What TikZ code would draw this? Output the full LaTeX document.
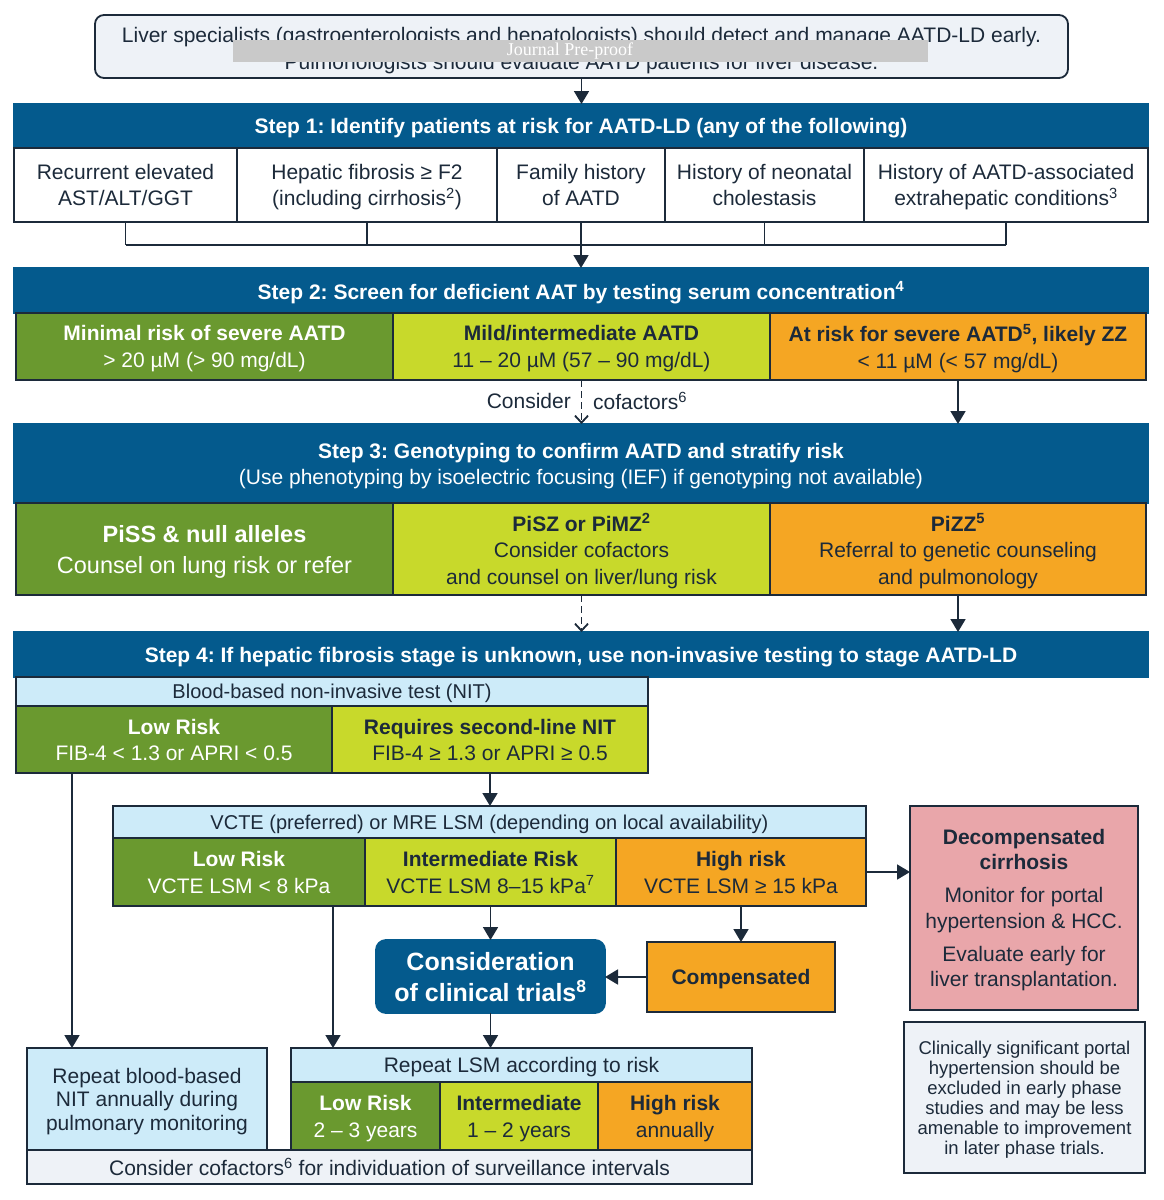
\documentclass[tikz,border=0pt]{standalone}
\usepackage{fontspec}
\setmainfont{Liberation Sans}
\newfontfamily\wmfont{Liberation Serif}
\usetikzlibrary{arrows.meta,calc}
\definecolor{hdr}{HTML}{045A8D}
\definecolor{dgreen}{HTML}{6A992F}
\definecolor{limec}{HTML}{C8D92B}
\definecolor{orng}{HTML}{F5A623}
\definecolor{lblue}{HTML}{CDEBF9}
\definecolor{pinkc}{HTML}{E9A6AA}
\definecolor{pale}{HTML}{EEF2F7}
\definecolor{navy}{HTML}{1C2A3A}
\definecolor{wmgray}{HTML}{C9C9C9}
\newcommand\bx[7]{\node[#6,minimum width={(#4-#2)*1pt},minimum height={(#5-#3)*1pt}] (#1) at ({(#2+#4)/2},{(#3+#5)/2}) {#7};}
\frenchspacing
\begin{document}
\begin{tikzpicture}[x=1pt,y=-1pt,
 bx/.style={draw=navy,line width=1.8pt,inner sep=0pt,outer sep=0pt,align=center,text=navy,text depth=0pt,font={\fontsize{21}{26}\selectfont}},
 hd/.style={bx,fill=hdr,draw=hdr,text=white,font={\bfseries\fontsize{21}{26}\selectfont}},
 gbox/.style={bx,fill=dgreen,text=white},
 lbox/.style={bx,fill=limec},
 obox/.style={bx,fill=orng},
 bbox/.style={bx,fill=lblue},
 wbox/.style={bx,fill=white},
 pbox/.style={bx,fill=pale},
 ln/.style={draw=navy,line width=1.8pt},
 arr/.style={ln,-{Triangle[width=15pt,length=13pt]}},
 darr/.style={draw=navy,line width=1.8pt,dash pattern=on 7pt off 4pt,-{Straight Barb[width=13pt,length=7pt]}},
 lbl/.style={inner sep=0pt,text=navy,font={\fontsize{21}{26}\selectfont}},
]
\useasboundingbox[fill=white] (0,0) rectangle (1163,1200);

% top box
\bx{top}{95}{15}{1068}{78}{pbox,rounded corners=9pt}{}
\node[lbl,align=center,font={\fontsize{21}{27}\selectfont}] (toptxt) at ([yshift=-4pt]top.center) {Liver specialists (gastroenterologists and hepatologists) should detect and manage AATD-LD early.\\Pulmonologists should evaluate AATD patients for liver disease.};
\bx{banner}{233}{40}{928}{62}{fill=wmgray,inner sep=0pt}{}
\node[inner sep=0pt,text=white,font={\wmfont\fontsize{18}{18}\selectfont}] (bannertxt) at (570,51) {Journal Pre-proof};

% step 1
\bx{s1h}{14}{104}{1148}{148}{hd}{Step 1: Identify patients at risk for AATD-LD (any of the following)}
\bx{s1a}{14}{148}{237}{222}{wbox}{Recurrent elevated\\AST/ALT/GGT}
\bx{s1b}{237}{148}{497}{222}{wbox}{Hepatic fibrosis ≥ F2\\(including cirrhosis\textsuperscript{2})}
\bx{s1c}{497}{148}{665}{222}{wbox}{Family history\\of AATD}
\bx{s1d}{665}{148}{864}{222}{wbox}{History of neonatal\\cholestasis}
\bx{s1e}{864}{148}{1148}{222}{wbox}{History of AATD-associated\\extrahepatic conditions\textsuperscript{3}}
\draw[arr] (top.south) -- (top.south |- s1h.north);
\coordinate (bus) at (580,245);
\foreach \n in {a,b,c,d,e} {\draw[ln] (s1\n.south) -- (s1\n.south |- bus);}
\draw[ln] (s1a.south |- bus) -- (s1e.south |- bus);

% step 2
\bx{s2h}{14}{268}{1148}{313}{hd}{Step 2: Screen for deficient AAT by testing serum concentration\textsuperscript{4}}
\draw[arr] (s1c.south |- bus) -- (s1c.south |- s2h.north);
\bx{s2a}{16}{313}{393}{380}{gbox,font={\fontsize{21}{27}\selectfont}}{\textbf{Minimal risk of severe AATD}\\> 20 µM (> 90 mg/dL)}
\bx{s2b}{393}{313}{770}{380}{lbox,font={\fontsize{21}{27}\selectfont}}{\textbf{Mild/intermediate AATD}\\11 – 20 µM (57 – 90 mg/dL)}
\bx{s2c}{770}{313}{1146}{380}{obox,font={\fontsize{21}{27}\selectfont}}{\textbf{At risk for severe AATD\textsuperscript{5}, likely ZZ}\\< 11 µM (< 57 mg/dL)}

% step 3
\bx{s3h}{14}{424}{1148}{503}{hd}{Step 3: Genotyping to confirm AATD and stratify risk\\\mdseries (Use phenotyping by isoelectric focusing (IEF) if genotyping not available)}
\draw[darr] (s2b.south) -- (s2b.south |- s3h.north);
\draw[arr] (s2c.south) -- (s2c.south |- s3h.north);
\node[lbl,anchor=east] (lc1) at (571,401) {Consider};
\node[lbl,anchor=west] (lc2) at (593,401) {cofactors\textsuperscript{6}};
\bx{s3a}{16}{503}{393}{595}{gbox,font={\fontsize{23.5}{31}\selectfont}}{\textbf{PiSS \& null alleles}\\Counsel on lung risk or refer}
\bx{s3b}{393}{503}{770}{595}{lbox,font={\fontsize{21}{26.5}\selectfont}}{\textbf{PiSZ or PiMZ\textsuperscript{2}}\\Consider cofactors\\and counsel on liver/lung risk}
\bx{s3c}{770}{503}{1146}{595}{obox,font={\fontsize{21}{26.5}\selectfont}}{\textbf{PiZZ\textsuperscript{5}}\\Referral to genetic counseling\\and pulmonology}

% step 4
\bx{s4h}{14}{632}{1148}{677}{hd}{Step 4: If hepatic fibrosis stage is unknown, use non-invasive testing to stage AATD-LD}
\draw[darr] (s3b.south) -- (s3b.south |- s4h.north);
\draw[arr] (s3c.south) -- (s3c.south |- s4h.north);
\bx{nith}{16}{677}{648}{706}{bbox,font={\fontsize{20}{24}\selectfont}}{Blood-based non-invasive test (NIT)}
\bx{nita}{16}{706}{332}{773}{gbox}{\textbf{Low Risk}\\FIB-4 < 1.3 or APRI < 0.5}
\bx{nitb}{332}{706}{648}{773}{lbox}{\textbf{Requires second-line NIT}\\FIB-4 ≥ 1.3 or APRI ≥ 0.5}

% VCTE
\bx{vh}{113}{806}{866}{838}{bbox,font={\fontsize{20}{24}\selectfont}}{VCTE (preferred) or MRE LSM (depending on local availability)}
\bx{va}{113}{838}{365}{906}{gbox,font={\fontsize{21}{27}\selectfont}}{\textbf{Low Risk}\\VCTE LSM < 8 kPa}
\bx{vb}{365}{838}{616}{906}{lbox,font={\fontsize{21}{27}\selectfont}}{\textbf{Intermediate Risk}\\VCTE LSM 8–15 kPa\textsuperscript{7}}
\bx{vc}{616}{838}{866}{906}{obox,font={\fontsize{21}{27}\selectfont}}{\textbf{High risk}\\VCTE LSM ≥ 15 kPa}
\draw[arr] (nitb.south) -- (nitb.south |- vh.north);

% right side
\bx{dc}{910}{806}{1138}{1010}{bx,fill=pinkc,font={\fontsize{21}{25.5}\selectfont}}{\textbf{Decompensated}\\\textbf{cirrhosis}\\[7.5pt]Monitor for portal\\hypertension \& HCC.\\[7.5pt]Evaluate early for\\liver transplantation.}
\bx{nt}{904}{1022}{1145}{1173}{pbox,font={\fontsize{18.5}{20}\selectfont}}{Clinically significant portal\\hypertension should be\\excluded in early phase\\studies and may be less\\amenable to improvement\\in later phase trials.}
\draw[arr] (vc.east) -- (vc.east -| dc.west);

% trials
\bx{cons}{376}{940}{605}{1013}{bx,fill=hdr,draw=hdr,rounded corners=10pt,text=white,font={\bfseries\fontsize{25}{31}\selectfont}}{Consideration\\of clinical trials\textsuperscript{8}}
\bx{comp}{647}{942}{835}{1012}{obox,font={\bfseries\fontsize{21}{26}\selectfont}}{Compensated}
\draw[arr] (vb.south) -- (vb.south |- cons.north);
\draw[arr] (vc.south) -- (vc.south |- comp.north);
\draw[arr] (comp.west) -- (comp.west -| cons.east);

% bottom
\bx{rbb}{27}{1048}{267}{1150}{bbox,font={\fontsize{21}{23.5}\selectfont}}{Repeat blood-based\\NIT annually during\\pulmonary monitoring}
\bx{rlh}{291}{1048}{752}{1082}{bbox}{Repeat LSM according to risk}
\bx{rla}{291}{1082}{440}{1150}{gbox,font={\fontsize{21}{27}\selectfont}}{\textbf{Low Risk}\\2 – 3 years}
\bx{rlb}{440}{1082}{598}{1150}{lbox,font={\fontsize{21}{27}\selectfont}}{\textbf{Intermediate}\\1 – 2 years}
\bx{rlc}{598}{1082}{752}{1150}{obox,font={\fontsize{21}{27}\selectfont}}{\textbf{High risk}\\annually}
\bx{cc}{27}{1150}{752}{1184}{pbox}{Consider cofactors\textsuperscript{6} for individuation of surveillance intervals}

\coordinate (nitaout) at ([xshift=56pt]nita.south west);
\coordinate (vaout) at ([xshift=-32pt]va.south east);
\draw[arr] (nitaout) -- (nitaout |- rbb.north);
\draw[arr] (vaout) -- (vaout |- rlh.north);
\draw[arr] (cons.south) -- (cons.south |- rlh.north);
\end{tikzpicture}
\end{document}
